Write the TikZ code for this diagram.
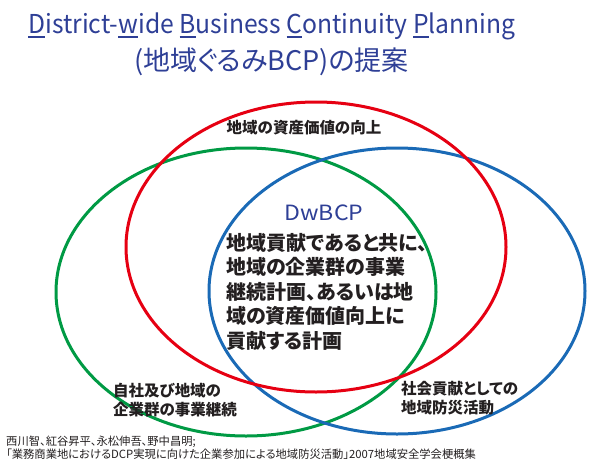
\documentclass[tikz,border=0pt]{standalone}
\usepackage{fontspec}
\setmainfont{Noto Sans CJK JP}[RawFeature=+palt]
\usepackage{xcolor}
\usetikzlibrary{positioning}
\definecolor{bcprouge}{HTML}{E60012}
\definecolor{bcpvert}{HTML}{009A44}
\definecolor{bcpbleu}{HTML}{1A6AB6}
\definecolor{bcpmarine}{HTML}{2E3F96}
\definecolor{bcpencre}{HTML}{231F20}
\newcommand{\bcpul}[1]{\setbox0=\hbox{#1}\rlap{\rule[-4pt]{\wd0}{2pt}}\box0}

\begin{document}
\begin{tikzpicture}[
    x=1pt,y=-1pt,
    cercle/.style = {line width=3pt},
    titre/.style  = {text=bcpmarine,inner sep=0pt,anchor=base},
    etiq/.style   = {text=bcpencre,align=left,inner sep=0pt,
                     font=\fontsize{15.5}{19}\selectfont\bfseries},
    corps/.style  = {text=bcpencre,align=left,inner sep=0pt,anchor=north west,
                     font=\fontsize{20}{24.5}\selectfont\bfseries},
    ref/.style    = {text=bcpencre,align=left,inner sep=0pt,anchor=north west,
                     font=\fontsize{11.3}{13}\selectfont},
  ]
  \useasboundingbox (0,0) rectangle (600,472);

  % ── Titre ───────────────────────────────────────────────────────────────
  \node[titre,font=\fontsize{26}{30}\selectfont] (titre1) at (272,33.5)
    {\scalebox{0.95}[1]{\bcpul{D}istrict-\bcpul{w}ide \bcpul{B}usiness \bcpul{C}ontinuity \bcpul{P}lanning}};
  \node[titre,font=\fontsize{27}{30}\selectfont] (titre2) at (271.5,70)
    {(地域ぐるみBCP)の提案};

  % ── Ensembles ───────────────────────────────────────────────────────────
  \draw[cercle,draw=bcpvert]  (246,292) ellipse [x radius=190,y radius=144];
  \draw[cercle,draw=bcpbleu]  (397,291) ellipse [x radius=188,y radius=143];
  \draw[cercle,draw=bcprouge] (316,247) ellipse [x radius=190,y radius=145];

  % ── Étiquettes ──────────────────────────────────────────────────────────
  \node[etiq,anchor=base] (actifs) at (304,133) {地域の資産価値の向上};
  \node[etiq,anchor=north west] (continuite) at (113,383)
    {自社及び地域の\\企業群の事業継続};
  \node[etiq,anchor=north west] (prevention) at (401,381)
    {社会貢献としての\\地域防災活動};

  % ── Intersection ────────────────────────────────────────────────────────
  \node[titre,font=\fontsize{21}{24}\selectfont] (dwbcp) at (324,220)
    {\scalebox{1.1}[1]{DwBCP}};
  \node[corps] (definition) at (226,233)
    {地域貢献であると共に、\\地域の企業群の事業\\継続計画、あるいは地\\域の資産価値向上に\\貢献する計画};

  % ── Source ──────────────────────────────────────────────────────────────
  \node[ref] (source) at (6,436)
    {西川智、紅谷昇平、永松伸吾、野中昌明;\\「業務商業地におけるDCP実現に向けた企業参加による地域防災活動」2007地域安全学会梗概集};

\end{tikzpicture}
\end{document}
